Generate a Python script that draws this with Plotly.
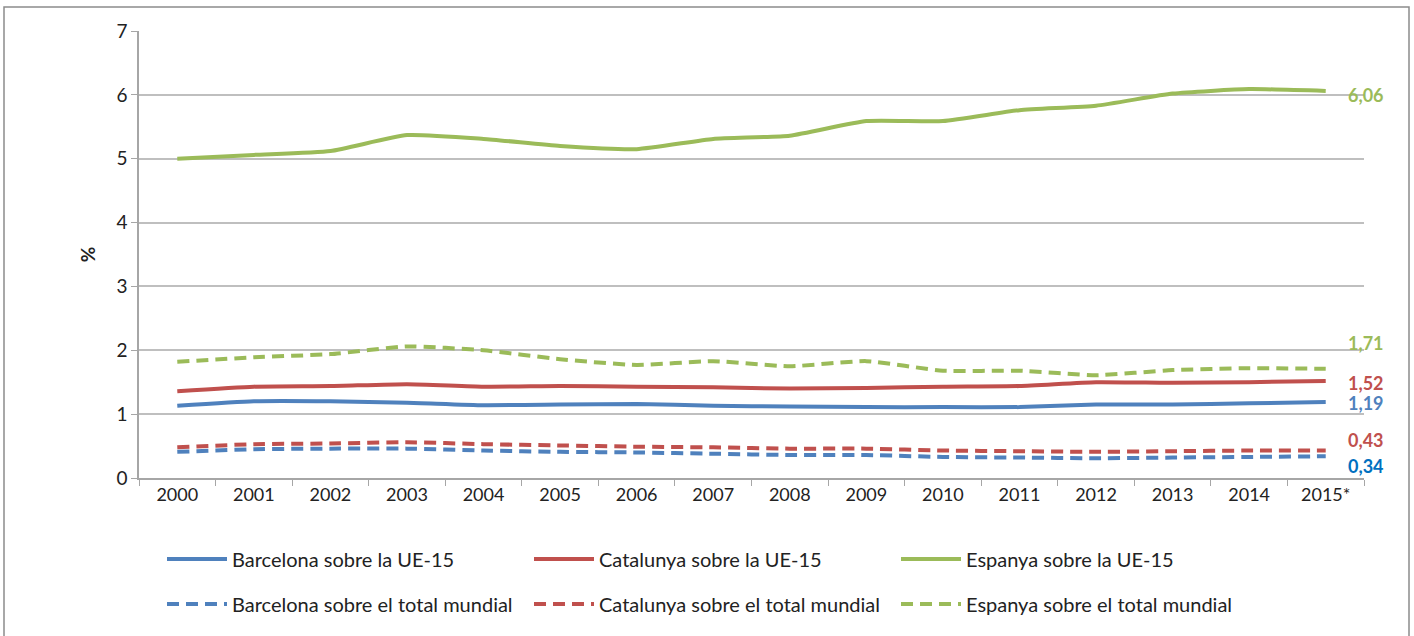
import plotly.graph_objects as go

years = ["2000", "2001", "2002", "2003", "2004", "2005", "2006", "2007",
         "2008", "2009", "2010", "2011", "2012", "2013", "2014", "2015*"]

bcn_ue15 = [1.13, 1.20, 1.20, 1.18, 1.14, 1.15, 1.16, 1.13, 1.12, 1.11, 1.11, 1.11, 1.15, 1.15, 1.17, 1.19]
cat_ue15 = [1.36, 1.43, 1.44, 1.47, 1.43, 1.44, 1.43, 1.42, 1.40, 1.41, 1.43, 1.44, 1.50, 1.49, 1.50, 1.52]
esp_ue15 = [5.00, 5.06, 5.12, 5.37, 5.31, 5.20, 5.15, 5.31, 5.36, 5.59, 5.59, 5.76, 5.83, 6.02, 6.09, 6.06]
bcn_mon = [0.41, 0.45, 0.46, 0.46, 0.43, 0.41, 0.40, 0.38, 0.36, 0.36, 0.33, 0.32, 0.31, 0.32, 0.33, 0.34]
cat_mon = [0.48, 0.53, 0.54, 0.56, 0.53, 0.51, 0.49, 0.48, 0.46, 0.46, 0.43, 0.42, 0.41, 0.42, 0.43, 0.43]
esp_mon = [1.82, 1.89, 1.94, 2.06, 2.00, 1.86, 1.77, 1.83, 1.75, 1.83, 1.68, 1.68, 1.61, 1.69, 1.72, 1.71]

end_labels = ["6,06", "1,71", "1,52", "1,19", "0,43", "0,34"]

BLUE = "#4F81BD"
RED = "#C0504D"
GREEN = "#9BBB59"
FONT = "Lato, 'Liberation Sans Narrow', Arial, sans-serif"
DASH = "12px,7px"

series = [
    ("Barcelona sobre la UE-15", bcn_ue15, BLUE, "solid", "legend"),
    ("Catalunya sobre la UE-15", cat_ue15, RED, "solid", "legend"),
    ("Espanya sobre la UE-15", esp_ue15, GREEN, "solid", "legend"),
    ("Barcelona sobre el total mundial", bcn_mon, BLUE, DASH, "legend2"),
    ("Catalunya sobre el total mundial", cat_mon, RED, DASH, "legend2"),
    ("Espanya sobre el total mundial", esp_mon, GREEN, DASH, "legend2"),
]

fig = go.Figure()
for name, vals, col, dash, lg in series:
    fig.add_trace(go.Scatter(
        x=years, y=vals, name=name, mode="lines",
        line=dict(color=col, width=4, dash=dash, shape="spline", smoothing=0.5),
        legend=lg,
    ))

# end labels
label_specs = [
    (esp_ue15[-1], end_labels[0], GREEN, -4),
    (esp_mon[-1], end_labels[1], GREEN, 26),
    (cat_ue15[-1], end_labels[2], RED, -2),
    (bcn_ue15[-1], end_labels[3], BLUE, -1),
    (cat_mon[-1], end_labels[4], RED, 11),
    (bcn_mon[-1], end_labels[5], "#0070C0", -10),
]
for yv, txt, col, ys in label_specs:
    fig.add_annotation(x=years[-1], y=yv, text="<b>" + txt + "</b>", showarrow=False,
                       xanchor="left", yanchor="middle", xshift=20, yshift=ys,
                       font=dict(family=FONT, size=18, color=col))

# outer border
W, H = 1414, 636
ml, mr, mt, mb = 139, 50, 31, 158
pw, ph = W - ml - mr, H - mt - mb
def px(x):
    return (x - ml) / pw
def py(y):
    return (H - mb - y) / ph
fig.add_shape(type="rect", xref="paper", yref="paper",
              x0=px(4), x1=px(1409), y0=py(645), y1=py(7),
              line=dict(color="#8c8c8c", width=1.5), fillcolor="rgba(0,0,0,0)")

legend_common = dict(orientation="h", xanchor="left", yanchor="middle",
                     font=dict(family=FONT, size=20, color="#222"),
                     entrywidth=292, entrywidthmode="pixels", itemwidth=60,
                     bgcolor="rgba(0,0,0,0)", tracegroupgap=0)

fig.update_layout(
    width=W, height=H,
    margin=dict(l=ml, r=mr, t=mt, b=mb, autoexpand=False),
    paper_bgcolor="white", plot_bgcolor="white",
    font=dict(family=FONT, size=18, color="#222"),
    showlegend=True,
    legend=dict(x=px(162), y=py(559), **legend_common),
    legend2=dict(x=px(162), y=py(604), **legend_common),
    xaxis=dict(type="category", showgrid=False, showline=True, linecolor="#a6a6a6",
               linewidth=1.5, ticks="outside", tickson="boundaries", ticklen=6,
               tickcolor="#a6a6a6", tickfont=dict(size=18, color="#222"),
               range=[-0.5, 15.5], automargin=False),
    yaxis=dict(range=[0, 7], dtick=1, showgrid=True, gridcolor="#bfbfbf", gridwidth=1.5,
               showline=True, linecolor="#a6a6a6", linewidth=1.5, ticks="outside",
               ticklen=6, tickcolor="#a6a6a6", tickfont=dict(size=19, color="#222"),
               zeroline=False, automargin=False,
               title=dict(text="<b>%</b>", font=dict(size=19, color="#222"), standoff=16)),
)

fig.write_html("out.html", config={"displayModeBar": False},
               post_script="document.body.style.margin='0';document.body.style.overflow='hidden';")
